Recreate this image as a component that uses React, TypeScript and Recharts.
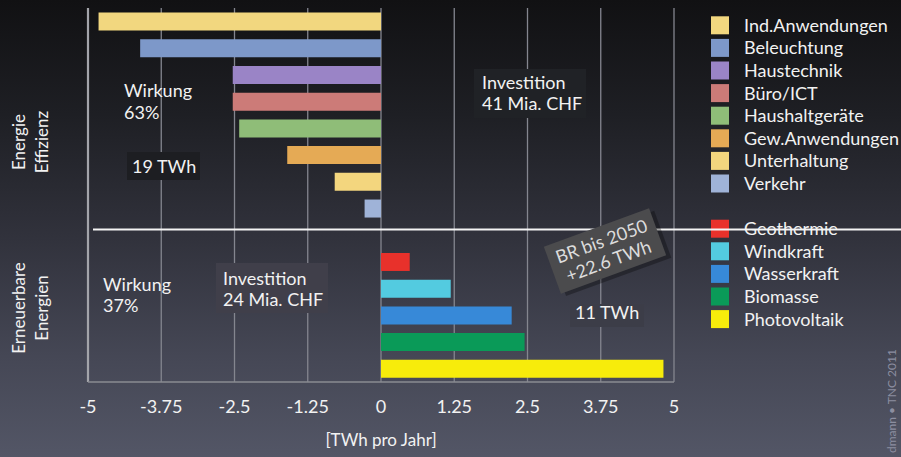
import React from 'react';
import { BarChart, Bar, XAxis, YAxis, CartesianGrid, Cell, ReferenceLine } from 'recharts';

const efficiencyCategories = ['Ind.Anwendungen', 'Beleuchtung', 'Haustechnik', 'Büro/ICT', 'Haushaltgeräte', 'Gew.Anwendungen', 'Unterhaltung', 'Verkehr'];
const efficiencyValues = [-4.82, -4.11, -2.53, -2.53, -2.42, -1.6, -0.79, -0.28];
const efficiencyColors = ['#f2d77f', '#7d98c9', '#9a84c6', '#cc7b78', '#8fbd78', '#e5aa55', '#f3d67e', '#9fb3d8'];

const renewableCategories = ['Geothermie', 'Windkraft', 'Wasserkraft', 'Biomasse', 'Photovoltaik'];
const renewableValues = [0.49, 1.19, 2.23, 2.45, 4.82];
const renewableColors = ['#e8312b', '#53cbe0', '#3789d8', '#0a9a58', '#f7ec0b'];

const xTicks = [-5, -3.75, -2.5, -1.25, 0, 1.25, 2.5, 3.75, 5];
const xTickLabels = ['-5', '-3.75', '-2.5', '-1.25', '0', '1.25', '2.5', '3.75', '5'];

const data = [
  ...efficiencyCategories.map((name, i) => ({ name, value: efficiencyValues[i], color: efficiencyColors[i] })),
  { name: '__gap__', value: null as number | null, color: 'transparent' },
  ...renewableCategories.map((name, i) => ({ name, value: renewableValues[i], color: renewableColors[i] })),
];

const legendItems = [
  ...efficiencyCategories.map((name, i) => ({ name, color: efficiencyColors[i], row: i })),
  ...renewableCategories.map((name, i) => ({ name, color: renewableColors[i], row: i + 9 })),
];

const FONT = 'Lato, "Open Sans", sans-serif';

export default function App() {
  return (
    <div
      style={{
        position: 'absolute',
        left: 0,
        top: 0,
        width: 901,
        height: 457,
        overflow: 'hidden',
        background: 'linear-gradient(180deg, #111113 0%, #1e1f24 25%, #31323c 52%, #454755 78%, #535666 100%)',
        fontFamily: FONT,
      }}
    >
      <BarChart
        width={901}
        height={457}
        layout="vertical"
        data={data}
        margin={{ top: 8, right: 227, bottom: 45, left: 88 }}
        barCategoryGap="17%"
        style={{ position: 'absolute', left: 0, top: 0 }}
      >
        <CartesianGrid vertical horizontal={false} stroke="#84868f" strokeWidth={1.3} />
        <XAxis
          type="number"
          dataKey="value"
          domain={[-5, 5]}
          ticks={xTicks}
          tickFormatter={(v: number) => xTickLabels[xTicks.indexOf(v)] ?? String(v)}
          height={30}
          tickLine={false}
          tickSize={0}
          tickMargin={18}
          axisLine={{ stroke: '#8a8b92', strokeWidth: 1.5 }}
          tick={{ fill: '#f2f2f2', fontSize: 18, fontFamily: FONT }}
          allowDataOverflow
        />
        <XAxis
          xAxisId="top"
          orientation="top"
          type="number"
          domain={[-5, 5]}
          ticks={xTicks}
          height={0}
          tick={false}
          tickLine={false}
          axisLine={{ stroke: '#6e7078', strokeWidth: 1.3 }}
        />
        <YAxis type="category" dataKey="name" hide />
        <ReferenceLine x={-5} stroke="#a3a4aa" strokeWidth={2.2} />
        <Bar dataKey="value" isAnimationActive={false}>
          {data.map((d, i) => (
            <Cell key={i} fill={d.color} />
          ))}
        </Bar>
      </BarChart>

      <svg width={901} height={457} style={{ position: 'absolute', left: 0, top: 0, pointerEvents: 'none' }} fontFamily={FONT}>
        {/* boxes hiding gridlines behind annotations */}
        <rect x={127} y={152} width={73} height={28} fill="#1d1e22" />
        <rect x={474} y={69} width={112} height={49} fill="#202226" />
        <rect x={216} y={263} width={112} height={50} fill="#403f4a" />
        <rect x={570} y={304} width={74} height={23} fill="#3c3d48" />

        {/* annotations */}
        <text x={124} y={97} fill="#f2f2f2" fontSize={18}>Wirkung</text>
        <text x={124} y={118.5} fill="#f2f2f2" fontSize={18}>63%</text>
        <text x={132} y={173} fill="#f2f2f2" fontSize={18}>19 TWh</text>
        <text x={482} y={89} fill="#f2f2f2" fontSize={18}>Investition</text>
        <text x={482} y={110} fill="#f2f2f2" fontSize={18}>41 Mia. CHF</text>
        <text x={103} y={291} fill="#f2f2f2" fontSize={18}>Wirkung</text>
        <text x={103} y={311.5} fill="#f2f2f2" fontSize={18}>37%</text>
        <text x={223} y={285} fill="#f2f2f2" fontSize={18}>Investition</text>
        <text x={223} y={306} fill="#f2f2f2" fontSize={18}>24 Mia. CHF</text>
        <text x={575} y={318.5} fill="#f2f2f2" fontSize={18}>11 TWh</text>

        {/* left group labels */}
        <g transform="translate(30,142) rotate(-90)">
          <text x={0} y={-5} textAnchor="middle" fill="#f2f2f2" fontSize={17}>Energie</text>
          <text x={0} y={18} textAnchor="middle" fill="#f2f2f2" fontSize={17}>Effizienz</text>
        </g>
        <g transform="translate(30,308) rotate(-90)">
          <text x={0} y={-5} textAnchor="middle" fill="#f2f2f2" fontSize={17}>Erneuerbare</text>
          <text x={0} y={18} textAnchor="middle" fill="#f2f2f2" fontSize={17}>Energien</text>
        </g>

        {/* axis title */}
        <text x={381} y={446} textAnchor="middle" fill="#f2f2f2" fontSize={17}>[TWh pro Jahr]</text>

        {/* legend */}
        {legendItems.map((it) => {
          const cy = 25.3 + 22.6 * it.row;
          return (
            <g key={it.name}>
              <rect x={711} y={cy - 9} width={18} height={18} fill={it.color} />
              <text x={744} y={cy + 6.5} fill="#f2f2f2" fontSize={18}>{it.name}</text>
            </g>
          );
        })}

        {/* separator line */}
        <line x1={93} y1={229.5} x2={901} y2={229.5} stroke="#f4f4f4" strokeWidth={2} />

        {/* rotated BR box */}
        <g transform="translate(605,251) rotate(-20)">
          <rect x={-52} y={-21} width={112} height={50} fill="rgba(0,0,0,0.3)" />
          <rect x={-56} y={-25} width={112} height={50} fill="#4b4b4d" />
          <text x={0} y={-4} textAnchor="middle" fill="#dcdcdc" fontSize={18}>BR bis 2050</text>
          <text x={0} y={17} textAnchor="middle" fill="#dcdcdc" fontSize={18}>+22.6 TWh</text>
        </g>

        {/* credit */}
        <text transform="translate(896,453) rotate(-90)" fill="#8c8ea0" fontSize={12}>dmann • TNC 2011</text>
      </svg>
    </div>
  );
}
